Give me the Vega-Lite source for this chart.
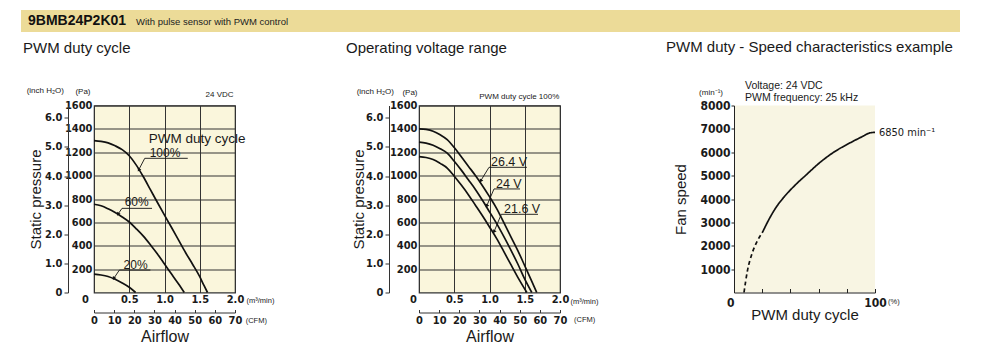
{
  "$schema": "https://vega.github.io/schema/vega-lite/v6.json",
  "padding": {"left": 20, "top": 10, "right": 0, "bottom": 0},
  "background": "white",
  "spacing": 7.5,
  "datasets": {
    "pwm": [
      {"duty": "100%", "flow": 0, "pa": 1300}, {"duty": "100%", "flow": 0.1, "pa": 1293}, {"duty": "100%", "flow": 0.2, "pa": 1280},
      {"duty": "100%", "flow": 0.3, "pa": 1255}, {"duty": "100%", "flow": 0.4, "pa": 1222}, {"duty": "100%", "flow": 0.5, "pa": 1170},
      {"duty": "100%", "flow": 0.6, "pa": 1090}, {"duty": "100%", "flow": 0.7, "pa": 990}, {"duty": "100%", "flow": 0.8, "pa": 880},
      {"duty": "100%", "flow": 0.9, "pa": 770}, {"duty": "100%", "flow": 1.0, "pa": 662}, {"duty": "100%", "flow": 1.1, "pa": 556},
      {"duty": "100%", "flow": 1.2, "pa": 448}, {"duty": "100%", "flow": 1.3, "pa": 340}, {"duty": "100%", "flow": 1.4, "pa": 240},
      {"duty": "100%", "flow": 1.5, "pa": 135}, {"duty": "100%", "flow": 1.56, "pa": 60}, {"duty": "100%", "flow": 1.61, "pa": 0},
      {"duty": "60%", "flow": 0, "pa": 755}, {"duty": "60%", "flow": 0.1, "pa": 742}, {"duty": "60%", "flow": 0.2, "pa": 716},
      {"duty": "60%", "flow": 0.3, "pa": 684}, {"duty": "60%", "flow": 0.4, "pa": 646}, {"duty": "60%", "flow": 0.5, "pa": 603},
      {"duty": "60%", "flow": 0.6, "pa": 545}, {"duty": "60%", "flow": 0.7, "pa": 482}, {"duty": "60%", "flow": 0.8, "pa": 408},
      {"duty": "60%", "flow": 0.9, "pa": 330}, {"duty": "60%", "flow": 1.0, "pa": 243}, {"duty": "60%", "flow": 1.1, "pa": 158},
      {"duty": "60%", "flow": 1.2, "pa": 72}, {"duty": "60%", "flow": 1.28, "pa": 0},
      {"duty": "20%", "flow": 0, "pa": 157}, {"duty": "20%", "flow": 0.1, "pa": 150}, {"duty": "20%", "flow": 0.2, "pa": 137},
      {"duty": "20%", "flow": 0.3, "pa": 113}, {"duty": "20%", "flow": 0.4, "pa": 82}, {"duty": "20%", "flow": 0.5, "pa": 45},
      {"duty": "20%", "flow": 0.59, "pa": 0}
    ],
    "volt": [
      {"voltage": "26.4 V", "flow": 0, "pa": 1400}, {"voltage": "26.4 V", "flow": 0.1, "pa": 1395}, {"voltage": "26.4 V", "flow": 0.2, "pa": 1380},
      {"voltage": "26.4 V", "flow": 0.3, "pa": 1350}, {"voltage": "26.4 V", "flow": 0.4, "pa": 1308}, {"voltage": "26.4 V", "flow": 0.5, "pa": 1240},
      {"voltage": "26.4 V", "flow": 0.6, "pa": 1162}, {"voltage": "26.4 V", "flow": 0.7, "pa": 1081}, {"voltage": "26.4 V", "flow": 0.8, "pa": 1001},
      {"voltage": "26.4 V", "flow": 0.9, "pa": 914}, {"voltage": "26.4 V", "flow": 1.0, "pa": 820}, {"voltage": "26.4 V", "flow": 1.1, "pa": 720},
      {"voltage": "26.4 V", "flow": 1.2, "pa": 602}, {"voltage": "26.4 V", "flow": 1.3, "pa": 481}, {"voltage": "26.4 V", "flow": 1.4, "pa": 361},
      {"voltage": "26.4 V", "flow": 1.5, "pa": 229}, {"voltage": "26.4 V", "flow": 1.6, "pa": 96}, {"voltage": "26.4 V", "flow": 1.67, "pa": 0},
      {"voltage": "24 V", "flow": 0, "pa": 1286}, {"voltage": "24 V", "flow": 0.1, "pa": 1278}, {"voltage": "24 V", "flow": 0.2, "pa": 1260},
      {"voltage": "24 V", "flow": 0.3, "pa": 1230}, {"voltage": "24 V", "flow": 0.4, "pa": 1192}, {"voltage": "24 V", "flow": 0.5, "pa": 1123},
      {"voltage": "24 V", "flow": 0.6, "pa": 1047}, {"voltage": "24 V", "flow": 0.7, "pa": 965}, {"voltage": "24 V", "flow": 0.8, "pa": 882},
      {"voltage": "24 V", "flow": 0.9, "pa": 789}, {"voltage": "24 V", "flow": 1.0, "pa": 690}, {"voltage": "24 V", "flow": 1.1, "pa": 591},
      {"voltage": "24 V", "flow": 1.2, "pa": 482}, {"voltage": "24 V", "flow": 1.3, "pa": 367}, {"voltage": "24 V", "flow": 1.4, "pa": 246},
      {"voltage": "24 V", "flow": 1.5, "pa": 114}, {"voltage": "24 V", "flow": 1.6, "pa": 0},
      {"voltage": "21.6 V", "flow": 0, "pa": 1163}, {"voltage": "21.6 V", "flow": 0.1, "pa": 1155}, {"voltage": "21.6 V", "flow": 0.2, "pa": 1138},
      {"voltage": "21.6 V", "flow": 0.3, "pa": 1105}, {"voltage": "21.6 V", "flow": 0.4, "pa": 1065}, {"voltage": "21.6 V", "flow": 0.5, "pa": 995},
      {"voltage": "21.6 V", "flow": 0.6, "pa": 919}, {"voltage": "21.6 V", "flow": 0.7, "pa": 837}, {"voltage": "21.6 V", "flow": 0.8, "pa": 747},
      {"voltage": "21.6 V", "flow": 0.9, "pa": 656}, {"voltage": "21.6 V", "flow": 1.0, "pa": 561}, {"voltage": "21.6 V", "flow": 1.1, "pa": 463},
      {"voltage": "21.6 V", "flow": 1.2, "pa": 354}, {"voltage": "21.6 V", "flow": 1.3, "pa": 242}, {"voltage": "21.6 V", "flow": 1.4, "pa": 132},
      {"voltage": "21.6 V", "flow": 1.53, "pa": 0}
    ],
    "speed": [
      {"part": "dashed", "duty": 7.1, "rpm": 0}, {"part": "dashed", "duty": 9.5, "rpm": 920}, {"part": "dashed", "duty": 13, "rpm": 1700},
      {"part": "dashed", "duty": 16.5, "rpm": 2200}, {"part": "dashed", "duty": 20, "rpm": 2550},
      {"part": "solid", "duty": 20, "rpm": 2550}, {"part": "solid", "duty": 25, "rpm": 3150}, {"part": "solid", "duty": 29.6, "rpm": 3620},
      {"part": "solid", "duty": 35, "rpm": 4050}, {"part": "solid", "duty": 40.2, "rpm": 4400}, {"part": "solid", "duty": 45, "rpm": 4690},
      {"part": "solid", "duty": 50.8, "rpm": 5010}, {"part": "solid", "duty": 55, "rpm": 5245}, {"part": "solid", "duty": 60.3, "rpm": 5530},
      {"part": "solid", "duty": 65, "rpm": 5755}, {"part": "solid", "duty": 69.7, "rpm": 5960}, {"part": "solid", "duty": 75, "rpm": 6160},
      {"part": "solid", "duty": 80.4, "rpm": 6340}, {"part": "solid", "duty": 85, "rpm": 6487}, {"part": "solid", "duty": 91, "rpm": 6670},
      {"part": "solid", "duty": 96.9, "rpm": 6835}, {"part": "solid", "duty": 100, "rpm": 6850}
    ]
  },
  "vconcat": [
    {
      "width": 866,
      "height": 22,
      "layer": [
        {
          "data": {"values": [{"start": -0.0843, "end": 1}]},
          "mark": {"type": "rect", "color": "#ecdb98"},
          "encoding": {
            "x": {"field": "start", "type": "quantitative", "scale": {"domain": [0, 1], "nice": false, "zero": false}, "axis": null},
            "x2": {"field": "end"}
          }
        },
        {
          "data": {"values": [{"start": -0.0762, "label": "9BMB24P2K01"}]},
          "mark": {"type": "text", "align": "left", "baseline": "middle", "fontSize": 14, "fontWeight": "bold", "color": "#111"},
          "encoding": {"x": {"field": "start", "type": "quantitative", "axis": null}, "text": {"field": "label"}}
        },
        {
          "data": {"values": [{"start": 0.0485, "label": "With pulse sensor with PWM control"}]},
          "mark": {"type": "text", "align": "left", "baseline": "middle", "fontSize": 9.5, "color": "#222", "dy": 1},
          "encoding": {"x": {"field": "start", "type": "quantitative", "axis": null}, "text": {"field": "label"}}
        }
      ]
    },
    {
      "bounds": "flush",
      "spacing": 184,
      "hconcat": [
        {
          "width": 141,
          "height": 187,
          "title": {"text": "PWM duty cycle", "anchor": "start", "frame": "group", "dx": -71, "offset": 18.5, "baseline": "alphabetic", "fontSize": 15, "fontWeight": "normal", "font": "Liberation Sans, Arial, sans-serif", "color": "#1a1a1a"},
          "view": {"fill": "#faf6dc", "stroke": "#333", "strokeWidth": 1.2},
          "resolve": {"scale": {"x": "independent", "y": "independent"}},
          "layer": [
            {
              "layer": [
                {
                  "data": {"name": "pwm"},
                  "mark": {"type": "line", "color": "#111", "strokeWidth": 1.7, "interpolate": "monotone"},
                  "encoding": {
                    "x": {"field": "flow", "type": "quantitative", "scale": {"domain": [0, 2], "nice": false, "zero": false},
                      "axis": {"orient": "bottom", "values": [0, 0.5, 1, 1.5, 2], "tickCount": 50, "labelExpr": "datum.value == 0 ? '0' : format(datum.value, '.1f')",
                        "labelOffset": {"condition": {"test": "datum.value == 0", "value": -9}, "value": 0},
                        "grid": true, "gridColor": "#333", "gridWidth": 1, "domain": false, "ticks": false, "labelPadding": 1, "labelFlush": false, "labelOverlap": false,
                        "labelFontSize": 11, "title": "(m³/min)", "titleX": 152, "titleY": 8, "titleAlign": "left", "titleBaseline": "middle", "titleFontSize": 7.5, "titleFontWeight": "normal"}},
                    "y": {"field": "pa", "type": "quantitative", "scale": {"domain": [0, 1600], "nice": false},
                      "axis": {"orient": "left", "values": [200, 400, 600, 800, 1000, 1200, 1400, 1600], "tickCount": 50, "format": "d", "grid": true, "gridColor": "#333", "gridWidth": 1,
                        "domain": false, "ticks": false, "labelPadding": 2, "labelFontSize": 11, "labelFlush": false, "labelOverlap": false,
                        "title": "(Pa)", "titleAngle": 0, "titleX": -4, "titleY": -14, "titleAlign": "right", "titleBaseline": "middle", "titleFontSize": 8, "titleFontWeight": "normal"}},
                    "detail": {"field": "duty", "type": "nominal"}
                  }
                },
                {
                  "data": {"values": [{"flow": 1.98, "pa": 1686, "label": "24 VDC"}]},
                  "mark": {"type": "text", "align": "right", "baseline": "middle", "fontSize": 8, "color": "#1a1a1a"},
                  "encoding": {"x": {"field": "flow", "type": "quantitative"}, "y": {"field": "pa", "type": "quantitative"}, "text": {"field": "label"}}
                },
                {
                  "data": {"values": [{"flow": 0.776, "pa": 1317, "label": "PWM duty cycle"}]},
                  "mark": {"type": "text", "align": "left", "baseline": "middle", "fontSize": 13.5, "color": "#1a1a1a"},
                  "encoding": {"x": {"field": "flow", "type": "quantitative"}, "y": {"field": "pa", "type": "quantitative"}, "text": {"field": "label"}}
                },
                {
                  "data": {"values": [{"flow": 0.79, "pa": 1191, "label": "100%"}, {"flow": 0.435, "pa": 777, "label": "60%"}, {"flow": 0.42, "pa": 235, "label": "20%"}]},
                  "mark": {"type": "text", "align": "left", "baseline": "middle", "fontSize": 12, "color": "#1a1a1a"},
                  "encoding": {"x": {"field": "flow", "type": "quantitative"}, "y": {"field": "pa", "type": "quantitative"}, "text": {"field": "label"}}
                },
                {
                  "data": {"values": [
                    {"flow": 0.72, "pa": 1148, "flow2": 1.33, "pa2": 1148}, {"flow": 0.72, "pa": 1148, "flow2": 0.634, "pa2": 1049},
                    {"flow": 0.397, "pa": 720, "flow2": 0.823, "pa2": 720}, {"flow": 0.397, "pa": 720, "flow2": 0.34, "pa2": 670},
                    {"flow": 0.36, "pa": 192, "flow2": 0.80, "pa2": 192}, {"flow": 0.36, "pa": 192, "flow2": 0.28, "pa2": 120}
                  ]},
                  "mark": {"type": "rule", "color": "#111", "strokeWidth": 0.9},
                  "encoding": {"x": {"field": "flow", "type": "quantitative"}, "y": {"field": "pa", "type": "quantitative"}, "x2": {"field": "flow2"}, "y2": {"field": "pa2"}}
                },
                {
                  "data": {"values": [{"flow": 0.634, "pa": 1049}, {"flow": 0.34, "pa": 670}, {"flow": 0.28, "pa": 120}]},
                  "mark": {"type": "point", "shape": "triangle-up", "angle": 210, "size": 16, "filled": true, "color": "#111", "opacity": 1},
                  "encoding": {"x": {"field": "flow", "type": "quantitative"}, "y": {"field": "pa", "type": "quantitative"}}
                }
              ]
            },
            {
              "layer": [
                {
                  "data": {"values": [{"cfm": 75.3, "inch": -0.97, "label": "(CFM)"}]},
                  "mark": {"type": "text", "align": "left", "baseline": "middle", "fontSize": 7.5, "color": "#1a1a1a"},
                  "encoding": {
                    "x": {"field": "cfm", "type": "quantitative", "scale": {"domain": [0, 70], "nice": false, "zero": false},
                      "axis": {"orient": "bottom", "offset": 20, "values": [0, 10, 20, 30, 40, 50, 60, 70], "tickCount": 50, "grid": false, "domain": true, "domainColor": "#333",
                        "ticks": true, "tickSize": -3, "tickColor": "#333", "labelPadding": 5, "labelFontSize": 11, "labelFlush": false, "labelOverlap": false,
                        "title": "Airflow", "titleX": 70.5, "titleY": 24, "titleAlign": "center", "titleBaseline": "middle", "titleFontSize": 16, "titleFontWeight": "normal"}},
                    "y": {"field": "inch", "type": "quantitative", "scale": {"domain": [0, 6.4234], "nice": false, "zero": false},
                      "axis": {"orient": "left", "offset": 26, "values": [0, 1, 2, 3, 4, 5, 6], "tickCount": 50, "labelExpr": "datum.value == 0 ? '0' : format(datum.value, '.1f')",
                        "grid": false, "domain": true, "domainColor": "#333", "ticks": true, "tickSize": 4, "tickColor": "#333", "labelPadding": 2, "labelFontSize": 11,
                        "labelFlush": false, "labelOverlap": false,
                        "title": "Static pressure", "titleX": -33, "titleY": 93.5, "titleAngle": -90, "titleAlign": "center", "titleBaseline": "middle", "titleFontSize": 15, "titleFontWeight": "normal"}},
                    "text": {"field": "label"}
                  }
                },
                {
                  "data": {"values": [{"cfm": -14.9, "inch": 6.928, "label": "(inch H₂O)"}]},
                  "mark": {"type": "text", "align": "right", "baseline": "middle", "fontSize": 8, "color": "#1a1a1a"},
                  "encoding": {"x": {"field": "cfm", "type": "quantitative"}, "y": {"field": "inch", "type": "quantitative"}, "text": {"field": "label"}}
                }
              ]
            }
          ]
        },
        {
          "bounds": "flush",
          "spacing": 174,
          "hconcat": [
            {
              "width": 141,
              "height": 187,
              "title": {"text": "Operating voltage range", "anchor": "start", "frame": "group", "dx": -73, "offset": 19.5, "baseline": "alphabetic", "fontSize": 15, "fontWeight": "normal", "font": "Liberation Sans, Arial, sans-serif", "color": "#1a1a1a"},
              "view": {"fill": "#faf6dc", "stroke": "#333", "strokeWidth": 1.2},
              "resolve": {"scale": {"x": "independent", "y": "independent"}},
              "layer": [
                {
                  "layer": [
                    {
                      "data": {"name": "volt"},
                      "mark": {"type": "line", "color": "#111", "strokeWidth": 1.7, "interpolate": "monotone"},
                      "encoding": {
                        "x": {"field": "flow", "type": "quantitative", "scale": {"domain": [0, 2], "nice": false, "zero": false},
                          "axis": {"orient": "bottom", "values": [0, 0.5, 1, 1.5, 2], "tickCount": 50, "labelExpr": "datum.value == 0 ? '0' : format(datum.value, '.1f')",
                            "labelOffset": {"condition": {"test": "datum.value == 0", "value": -6}, "value": 0},
                            "grid": true, "gridColor": "#333", "gridWidth": 1, "domain": false, "ticks": false, "labelPadding": 1, "labelFlush": false, "labelOverlap": false,
                            "labelFontSize": 11, "title": "(m³/min)", "titleX": 151, "titleY": 9, "titleAlign": "left", "titleBaseline": "middle", "titleFontSize": 7.5, "titleFontWeight": "normal"}},
                        "y": {"field": "pa", "type": "quantitative", "scale": {"domain": [0, 1600], "nice": false},
                          "axis": {"orient": "left", "values": [200, 400, 600, 800, 1000, 1200, 1400, 1600], "tickCount": 50, "format": "d", "grid": true, "gridColor": "#333", "gridWidth": 1,
                            "domain": false, "ticks": false, "labelPadding": 2, "labelFontSize": 11, "labelFlush": false, "labelOverlap": false,
                            "title": "(Pa)", "titleAngle": 0, "titleX": -2, "titleY": -13, "titleAlign": "right", "titleBaseline": "middle", "titleFontSize": 8, "titleFontWeight": "normal"}},
                        "detail": {"field": "voltage", "type": "nominal"}
                      }
                    },
                    {
                      "data": {"values": [{"flow": 1.99, "pa": 1677, "label": "PWM duty cycle 100%"}]},
                      "mark": {"type": "text", "align": "right", "baseline": "middle", "fontSize": 8, "color": "#1a1a1a"},
                      "encoding": {"x": {"field": "flow", "type": "quantitative"}, "y": {"field": "pa", "type": "quantitative"}, "text": {"field": "label"}}
                    },
                    {
                      "data": {"values": [{"flow": 1.021, "pa": 1120, "label": "26.4 V"}, {"flow": 1.092, "pa": 926, "label": "24 V"}, {"flow": 1.206, "pa": 711, "label": "21.6 V"}]},
                      "mark": {"type": "text", "align": "left", "baseline": "middle", "fontSize": 12.5, "color": "#1a1a1a"},
                      "encoding": {"x": {"field": "flow", "type": "quantitative"}, "y": {"field": "pa", "type": "quantitative"}, "text": {"field": "label"}}
                    },
                    {
                      "data": {"values": [
                        {"flow": 0.993, "pa": 1071, "flow2": 1.53, "pa2": 1071}, {"flow": 0.993, "pa": 1071, "flow2": 0.875, "pa2": 955},
                        {"flow": 1.064, "pa": 886, "flow2": 1.433, "pa2": 886}, {"flow": 1.064, "pa": 886, "flow2": 0.96, "pa2": 740},
                        {"flow": 1.167, "pa": 669, "flow2": 1.688, "pa2": 669}, {"flow": 1.167, "pa": 669, "flow2": 1.064, "pa2": 520}
                      ]},
                      "mark": {"type": "rule", "color": "#111", "strokeWidth": 0.9},
                      "encoding": {"x": {"field": "flow", "type": "quantitative"}, "y": {"field": "pa", "type": "quantitative"}, "x2": {"field": "flow2"}, "y2": {"field": "pa2"}}
                    },
                    {
                      "data": {"values": [{"flow": 0.875, "pa": 955}, {"flow": 0.96, "pa": 740}, {"flow": 1.064, "pa": 520}]},
                      "mark": {"type": "point", "shape": "triangle-up", "angle": 210, "size": 16, "filled": true, "color": "#111", "opacity": 1},
                      "encoding": {"x": {"field": "flow", "type": "quantitative"}, "y": {"field": "pa", "type": "quantitative"}}
                    }
                  ]
                },
                {
                  "layer": [
                    {
                      "data": {"values": [{"cfm": 77, "inch": -0.94, "label": "(CFM)"}]},
                      "mark": {"type": "text", "align": "left", "baseline": "middle", "fontSize": 7.5, "color": "#1a1a1a"},
                      "encoding": {
                        "x": {"field": "cfm", "type": "quantitative", "scale": {"domain": [0, 70], "nice": false, "zero": false},
                          "axis": {"orient": "bottom", "offset": 20, "values": [0, 10, 20, 30, 40, 50, 60, 70], "tickCount": 50, "grid": false, "domain": true, "domainColor": "#333",
                            "ticks": true, "tickSize": -3, "tickColor": "#333", "labelPadding": 5, "labelFontSize": 11, "labelFlush": false, "labelOverlap": false,
                            "title": "Airflow", "titleX": 70.5, "titleY": 24, "titleAlign": "center", "titleBaseline": "middle", "titleFontSize": 16, "titleFontWeight": "normal"}},
                        "y": {"field": "inch", "type": "quantitative", "scale": {"domain": [0, 6.4234], "nice": false, "zero": false},
                          "axis": {"orient": "left", "offset": 30, "values": [0, 1, 2, 3, 4, 5, 6], "tickCount": 50, "labelExpr": "datum.value == 0 ? '0' : format(datum.value, '.1f')",
                            "grid": false, "domain": true, "domainColor": "#333", "ticks": true, "tickSize": 4, "tickColor": "#333", "labelPadding": 2, "labelFontSize": 11,
                            "labelFlush": false, "labelOverlap": false,
                            "title": "Static pressure", "titleX": -31, "titleY": 93.5, "titleAngle": -90, "titleAlign": "center", "titleBaseline": "middle", "titleFontSize": 15, "titleFontWeight": "normal"}},
                        "text": {"field": "label"}
                      }
                    },
                    {
                      "data": {"values": [{"cfm": -12.4, "inch": 6.894, "label": "(inch H₂O)"}]},
                      "mark": {"type": "text", "align": "right", "baseline": "middle", "fontSize": 8, "color": "#1a1a1a"},
                      "encoding": {"x": {"field": "cfm", "type": "quantitative"}, "y": {"field": "inch", "type": "quantitative"}, "text": {"field": "label"}}
                    }
                  ]
                }
              ]
            },
            {
              "width": 141,
              "height": 187,
              "title": {"text": "PWM duty - Speed characteristics example", "anchor": "start", "frame": "group", "dx": -68, "offset": 14.5, "baseline": "alphabetic", "fontSize": 15, "fontWeight": "normal", "font": "Liberation Sans, Arial, sans-serif", "color": "#1a1a1a"},
              "view": {"fill": "#f8f5e3", "stroke": null},
              "layer": [
                {
                  "data": {"name": "speed"},
                  "mark": {"type": "line", "color": "#111", "strokeWidth": 1.7, "interpolate": "monotone"},
                  "encoding": {
                    "x": {"field": "duty", "type": "quantitative", "scale": {"domain": [0, 100], "nice": false, "zero": false},
                      "axis": {"orient": "bottom", "values": [0, 20, 40, 60, 80, 100], "tickCount": 50, "labelExpr": "datum.value == 0 ? '0' : (datum.value == 100 ? '100' : '')",
                        "labelAlign": {"condition": {"test": "datum.value == 0", "value": "right"}, "value": "center"},
                        "grid": false, "domain": true, "domainColor": "#222", "ticks": true, "tickSize": -4, "tickColor": "#222", "labelPadding": 9,
                        "labelFontSize": 12, "labelFlush": false, "labelOverlap": false,
                        "title": "PWM duty cycle", "titleX": 70.5, "titleY": 22, "titleAlign": "center", "titleBaseline": "middle", "titleFontSize": 15, "titleFontWeight": "normal"}},
                    "y": {"field": "rpm", "type": "quantitative", "scale": {"domain": [0, 8000], "nice": false},
                      "axis": {"orient": "left", "values": [1000, 2000, 3000, 4000, 5000, 6000, 7000, 8000], "tickCount": 50, "format": "d", "grid": false, "domain": true, "domainColor": "#222",
                        "ticks": true, "tickSize": 3, "tickColor": "#222", "labelPadding": 1, "labelFontSize": 12, "labelFlush": false, "labelOverlap": false,
                        "title": "Fan speed", "titleX": -54, "titleY": 93.5, "titleAngle": -90, "titleAlign": "center", "titleBaseline": "middle", "titleFontSize": 15, "titleFontWeight": "normal"}},
                    "strokeDash": {"field": "part", "type": "nominal", "scale": {"domain": ["solid", "dashed"], "range": [[1, 0], [4, 3]]}, "legend": null}
                  }
                },
                {
                  "data": {"values": [{"duty": 7.8, "rpm": 8821, "label": "Voltage: 24 VDC"}, {"duty": 7.8, "rpm": 8328, "label": "PWM frequency: 25 kHz"}]},
                  "mark": {"type": "text", "align": "left", "baseline": "middle", "fontSize": 10.5, "color": "#1a1a1a"},
                  "encoding": {"x": {"field": "duty", "type": "quantitative"}, "y": {"field": "rpm", "type": "quantitative"}, "text": {"field": "label"}}
                },
                {
                  "data": {"values": [{"duty": -7.8, "rpm": 8553, "label": "(min⁻¹)"}]},
                  "mark": {"type": "text", "align": "right", "baseline": "middle", "fontSize": 8, "color": "#1a1a1a"},
                  "encoding": {"x": {"field": "duty", "type": "quantitative"}, "y": {"field": "rpm", "type": "quantitative"}, "text": {"field": "label"}}
                },
                {
                  "data": {"values": [{"duty": 102.8, "rpm": 6838, "label": "6850 min⁻¹"}]},
                  "mark": {"type": "text", "align": "left", "baseline": "middle", "fontSize": 11, "font": "Liberation Sans Narrow, Arial Narrow, DejaVu Sans Condensed, sans-serif", "color": "#1a1a1a"},
                  "encoding": {"x": {"field": "duty", "type": "quantitative"}, "y": {"field": "rpm", "type": "quantitative"}, "text": {"field": "label"}}
                },
                {
                  "data": {"values": [{"duty": 109.2, "rpm": -425, "label": "(%)"}]},
                  "mark": {"type": "text", "align": "left", "baseline": "middle", "fontSize": 7.5, "color": "#1a1a1a"},
                  "encoding": {"x": {"field": "duty", "type": "quantitative"}, "y": {"field": "rpm", "type": "quantitative"}, "text": {"field": "label"}}
                }
              ]
            }
          ]
        }
      ]
    }
  ],
  "config": {
    "font": "Liberation Sans, Arial, sans-serif",
    "view": {"stroke": null},
    "axis": {
      "labelFont": "Liberation Sans Narrow, Arial Narrow, DejaVu Sans Condensed, sans-serif",
      "labelFontWeight": "bold",
      "labelColor": "#1a1a1a",
      "titleFont": "Liberation Sans, Arial, sans-serif",
      "titleColor": "#1a1a1a",
      "gridOpacity": 1
    },
    "text": {"font": "Liberation Sans, Arial, sans-serif"}
  }
}
